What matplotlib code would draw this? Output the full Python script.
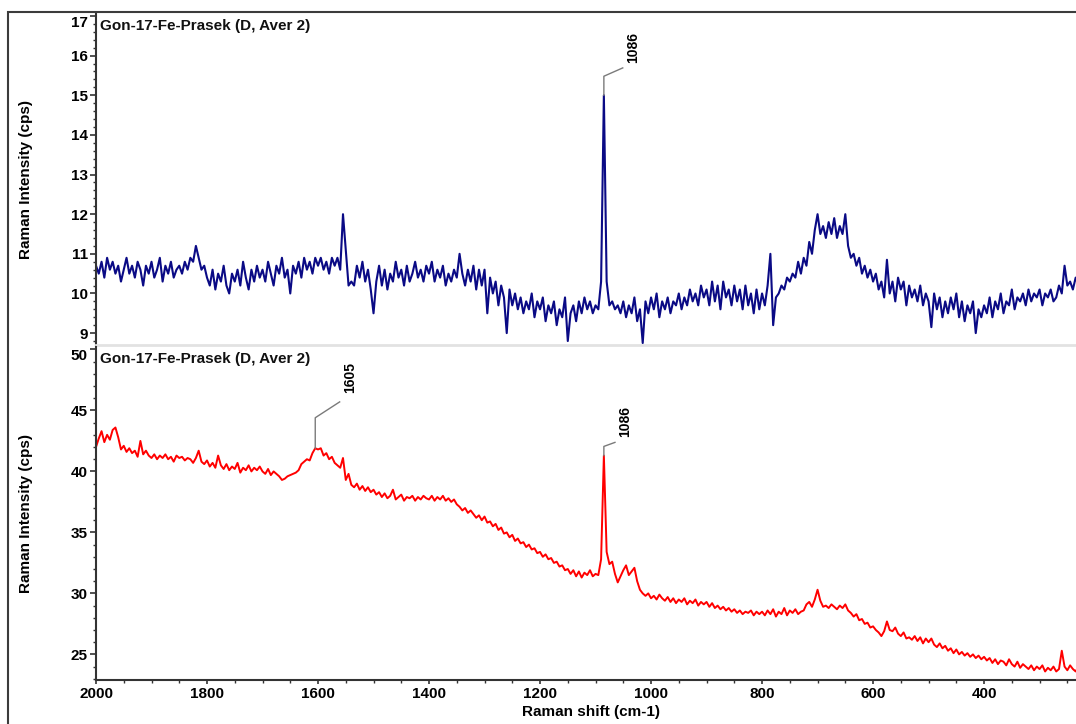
import numpy as np
import matplotlib
matplotlib.use("Agg")
import matplotlib.pyplot as plt
from matplotlib.ticker import MultipleLocator
from matplotlib.patches import Rectangle

plt.rcParams['font.family'] = ['Liberation Sans', 'DejaVu Sans']
plt.rcParams['font.weight'] = 'bold'

# Raman shift grid, 5 cm-1 step from 2000 down to 215
shift = np.arange(2000, 214, -5)

# top spectrum (navy) in 100 cm-1 blocks
blue_2000_1605 = [
    10.7, 10.5, 10.8, 10.4, 10.9, 10.6, 10.8, 10.5, 10.7, 10.3, 10.6, 10.9, 10.5, 10.7, 10.4, 10.8, 10.6, 10.2, 10.7, 10.5,
    10.8, 10.4, 10.6, 10.9, 10.3, 10.7, 10.5, 10.8, 10.4, 10.6, 10.7, 10.5, 10.8, 10.6, 10.9, 10.8, 11.2, 10.9, 10.6, 10.7,
    10.4, 10.2, 10.6, 10.1, 10.5, 10.3, 10.7, 10.2, 10.0, 10.5, 10.3, 10.6, 10.2, 10.8, 10.4, 10.1, 10.6, 10.3, 10.7, 10.4,
    10.6, 10.3, 10.8, 10.5, 10.2, 10.7, 10.5, 10.9, 10.4, 10.6, 10.0, 10.7, 10.5, 10.8, 10.4, 10.9, 10.6, 10.8, 10.5, 10.9,
]
blue_1600_1205 = [
    10.7, 10.9, 10.6, 10.8, 10.5, 10.9, 10.7, 10.9, 10.6, 12.0, 11.1, 10.2, 10.3, 10.2, 10.7, 10.4, 10.8, 10.3, 10.6, 10.1,
    9.5, 10.3, 10.7, 10.2, 10.6, 10.1, 10.5, 10.3, 10.8, 10.4, 10.6, 10.2, 10.7, 10.3, 10.5, 10.8, 10.4, 10.6, 10.3, 10.7,
    10.5, 10.8, 10.3, 10.6, 10.4, 10.7, 10.2, 10.5, 10.3, 10.6, 10.4, 11.0, 10.5, 10.2, 10.6, 10.3, 10.7, 10.1, 10.6, 10.2,
    10.6, 9.5, 10.4, 10.0, 10.3, 9.7, 10.2, 9.9, 9.0, 10.1, 9.7, 10.0, 9.6, 9.9, 9.5, 9.8, 9.6, 10.0, 9.4, 9.8,
]
blue_1200_805 = [
    9.6, 9.9, 9.3, 9.7, 9.5, 9.8, 9.2, 9.6, 9.4, 9.9, 8.8, 9.5, 9.7, 9.3, 9.8, 9.5, 9.9, 9.6, 9.8, 9.5,
    9.7, 9.6, 10.3, 15.0, 10.3, 9.7, 9.8, 9.6, 9.7, 9.5, 9.8, 9.4, 9.7, 9.5, 9.9, 9.3, 9.6, 8.75, 9.8, 9.5,
    9.9, 9.6, 10.0, 9.4, 9.8, 9.6, 9.9, 9.5, 9.8, 9.7, 10.0, 9.6, 9.9, 9.7, 10.1, 9.8, 10.0, 9.7, 10.2, 9.9,
    10.1, 9.7, 10.3, 9.8, 10.2, 9.6, 10.3, 9.9, 10.1, 9.7, 10.2, 9.8, 10.1, 9.6, 10.2, 9.7, 10.0, 9.5, 10.1, 9.6,
]
blue_800_215 = [
    10.0, 9.7, 10.2, 11.0, 9.2, 9.9, 10.0, 10.2, 10.1, 10.4, 10.3, 10.5, 10.4, 10.8, 10.5, 10.9, 10.7, 11.3, 11.0, 11.6,
    12.0, 11.5, 11.7, 11.4, 11.8, 11.5, 11.9, 11.4, 11.7, 11.5, 12.0, 11.2, 10.9, 11.0, 10.7, 10.9, 10.5, 10.7, 10.4, 10.6,
    10.3, 10.5, 10.1, 10.3, 9.9, 10.85, 10.0, 10.3, 9.8, 10.4, 10.1, 10.3, 9.7, 10.2, 9.9, 10.1, 9.8, 10.2, 9.7, 10.0,
    9.8, 9.15, 10.0, 9.6, 9.9, 9.4, 9.8, 9.5, 9.9, 9.6, 10.0, 9.4, 9.8, 9.3, 9.7, 9.5, 9.8, 9.0, 9.6, 9.4,
    9.7, 9.5, 9.9, 9.4, 9.8, 9.6, 10.0, 9.5, 9.8, 9.7, 10.1, 9.6, 9.9, 9.8, 10.0, 9.7, 10.1, 9.8, 10.0, 9.9,
    10.1, 9.7, 10.0, 9.9, 10.1, 9.8, 9.9, 10.2, 10.0, 10.7, 10.2, 10.3, 10.1, 10.4, 10.2, 10.0, 10.3, 10.2,
]

# bottom spectrum (red)
red_2000_1605 = [
    42.0, 42.7, 43.3, 42.4, 43.0, 42.6, 43.4, 43.6, 42.8, 41.8, 42.1, 41.6, 41.9, 41.5, 41.7, 41.2, 42.5, 41.4, 41.7, 41.3,
    41.1, 41.4, 41.0, 41.3, 41.1, 41.4, 41.0, 41.2, 40.8, 41.3, 41.1, 41.2, 40.9, 41.1, 41.0, 40.7, 41.1, 41.7, 40.8, 40.6,
    40.9, 40.4, 40.7, 40.3, 41.3, 40.5, 40.2, 40.6, 40.1, 40.4, 40.2, 40.7, 39.9, 40.3, 40.1, 40.5, 40.0, 40.3, 40.1, 40.4,
    40.0, 39.8, 40.2, 39.7, 40.0, 39.8, 39.6, 39.3, 39.4, 39.6, 39.7, 39.8, 39.9, 40.1, 40.6, 40.8, 41.0, 40.9, 41.5, 41.9,
]
red_1600_1205 = [
    41.8, 41.9, 41.3, 41.5, 41.0, 41.2, 40.7, 40.5, 40.3, 41.1, 39.3, 39.8, 38.9, 38.7, 39.0, 38.5, 38.8, 38.4, 38.7, 38.3,
    38.5, 38.1, 38.3, 37.9, 38.2, 37.8, 38.0, 38.5, 37.7, 37.9, 38.1, 37.6, 37.9, 37.8, 38.0, 37.6, 37.9, 37.7, 38.0, 37.8,
    37.7, 38.0, 37.6, 37.9, 37.7, 38.0, 37.6, 37.8, 37.5, 37.7, 37.3, 37.1, 36.8, 37.0, 36.6, 36.8, 36.5, 36.2, 36.4, 36.0,
    36.3, 35.8, 35.9, 35.5, 35.7, 35.2, 35.4, 34.9, 35.0, 34.6, 34.8, 34.3, 34.5, 34.1, 34.2, 33.8, 34.0, 33.6, 33.7, 33.3,
]
red_1200_805 = [
    33.4, 33.0, 33.2, 32.8, 32.9, 32.5, 32.6, 32.2, 32.3, 31.9, 32.0, 31.6, 31.9, 31.4, 31.8, 31.3, 31.7, 31.5, 31.9, 31.4,
    31.6, 31.5, 32.8, 41.3, 33.4, 32.4, 32.6, 31.6, 30.9, 31.4, 31.9, 32.3, 31.5, 31.8, 32.1, 31.0, 30.3, 30.0, 29.8, 30.0,
    29.6, 29.8, 29.5, 29.9, 29.6, 29.4, 29.7, 29.3, 29.6, 29.2, 29.5, 29.3, 29.6, 29.1, 29.4, 29.2, 29.5, 29.0, 29.3, 29.1,
    29.3, 28.9, 29.2, 28.8, 29.0, 28.7, 28.9, 28.6, 28.8, 28.5, 28.7, 28.4, 28.6, 28.3, 28.5, 28.4, 28.6, 28.2, 28.5, 28.3,
]
red_800_215 = [
    28.5, 28.2, 28.6, 28.3, 28.7, 28.1, 28.5, 28.3, 28.8, 28.2, 28.6, 28.4, 28.7, 28.3, 28.5, 28.6, 29.1, 29.3, 28.9, 29.5,
    30.3, 29.4, 28.9, 29.0, 28.8, 29.1, 28.9, 28.7, 29.0, 28.8, 29.1, 28.6, 28.4, 28.1, 28.3, 27.8, 27.9, 27.5, 27.6, 27.2,
    27.3, 27.0, 26.8, 26.5, 26.9, 27.7, 27.0, 26.9, 27.2, 26.7, 26.5, 26.8, 26.3, 26.4, 26.2, 26.5, 26.1, 26.4, 25.9, 26.3,
    26.0, 26.3, 25.8, 25.6, 25.9, 25.5, 25.7, 25.3, 25.5, 25.1, 25.4, 25.0, 25.2, 24.9, 25.1, 24.8, 25.0, 24.7, 24.9, 24.6,
    24.8, 24.5, 24.7, 24.3, 24.6, 24.2, 24.5, 24.4, 24.1, 24.6, 24.2, 24.0, 24.4, 23.9, 24.2, 24.0, 23.8, 24.1, 23.7, 24.0,
    23.8, 24.1, 23.6, 23.9, 23.7, 24.0, 23.6, 23.8, 25.3, 24.0, 23.7, 24.1, 23.8, 23.6, 24.0, 23.5, 23.8, 23.4,
]

blue = np.array(blue_2000_1605 + blue_1600_1205 + blue_1200_805 + blue_800_215)
red = np.array(red_2000_1605 + red_1600_1205 + red_1200_805 + red_800_215)

title = "Gon-17-Fe-Prasek (D, Aver 2)"
top_peaks = [1086]
bottom_peaks = [1605, 1086]
top_yticks = [9, 10, 11, 12, 13, 14, 15, 16, 17]
bottom_yticks = [25, 30, 35, 40, 45, 50]

W, H = 1076, 724
fig = plt.figure(figsize=(W / 100, H / 100), dpi=100)
fig.patches.append(Rectangle((8 / W, -0.01), 1.1, 1 - 12 / H + 0.01, transform=fig.transFigure,
                             fill=False, edgecolor='#3c3c3c', linewidth=1.5))

ax1 = fig.add_axes([96 / W, 1 - 345 / H, (W - 96) / W + 0.01, (345 - 14) / H])
ax2 = fig.add_axes([96 / W, 1 - 680 / H, (W - 96) / W + 0.01, (680 - 347) / H])

ax1.plot(shift, blue, color='#0a0a85', lw=1.5)
ax2.plot(shift, red, color='#ff0000', lw=1.4)

for ax in (ax1, ax2):
    ax.set_xlim(2000, 215)
    ax.spines['right'].set_visible(False)
    ax.spines['top'].set_visible(False)
    ax.spines['left'].set_color('#333333')
    ax.spines['left'].set_linewidth(1.5)
    ax.tick_params(axis='y', direction='out', length=4, width=1.2, color='#333333',
                   labelsize=11, pad=2)
    ax.tick_params(axis='y', which='minor', direction='out', length=2, width=1, color='#333333')
    ax.text(0.004, 0.985, title, transform=ax.transAxes, ha='left', va='top',
            fontsize=11, fontweight='bold', color='#111111')
    ax.set_ylabel("Raman Intensity (cps)", fontsize=11, fontweight='bold', labelpad=27)
    ax.xaxis.set_major_locator(MultipleLocator(200))
    ax.xaxis.set_minor_locator(MultipleLocator(50))

ax1.set_ylim(8.7, 17.05)
ax1.set_yticks(top_yticks)
ax1.yaxis.set_minor_locator(MultipleLocator(0.2))
ax1.spines['bottom'].set_color('#e2e2e2')
ax1.spines['bottom'].set_linewidth(2)
ax1.tick_params(axis='x', which='both', bottom=False, labelbottom=False)

ax2.set_ylim(22.9, 50.2)
ax2.set_yticks(bottom_yticks)
ax2.yaxis.set_minor_locator(MultipleLocator(1))
ax2.spines['bottom'].set_color('#333333')
ax2.spines['bottom'].set_linewidth(1.5)
ax2.tick_params(axis='x', direction='out', length=3, width=1.2, color='#333333',
                labelsize=11, pad=2)
ax2.tick_params(axis='x', which='minor', direction='out', length=2, width=1, color='#333333')
ax2.set_xlabel("Raman shift (cm-1)", fontsize=11, fontweight='bold', labelpad=3)

# the topmost tick label sits just below its tick, as in the instrument software
for ax in (ax1, ax2):
    ax.get_yticklabels()[-1].set_verticalalignment('top')


def mark_peak(ax, x, data, rise, dx, dy, tgap):
    i = np.argmin(np.abs(shift - x))
    y0 = data[i]
    ax.plot([shift[i], shift[i], shift[i] - dx], [y0, y0 + rise, y0 + rise + dy],
            color='#7a7a7a', lw=1)
    ax.text(shift[i] - dx - 18, y0 + rise + dy + tgap, str(x), rotation=90,
            ha='center', va='bottom', fontsize=10, fontweight='bold')


mark_peak(ax1, top_peaks[0], blue, 0.48, 34, 0.21, 0.12)
mark_peak(ax2, bottom_peaks[0], red, 2.5, 44, 1.3, 0.7)
mark_peak(ax2, bottom_peaks[1], red, 0.75, 20, 0.33, 0.45)

fig.savefig("out.png", dpi=100)
